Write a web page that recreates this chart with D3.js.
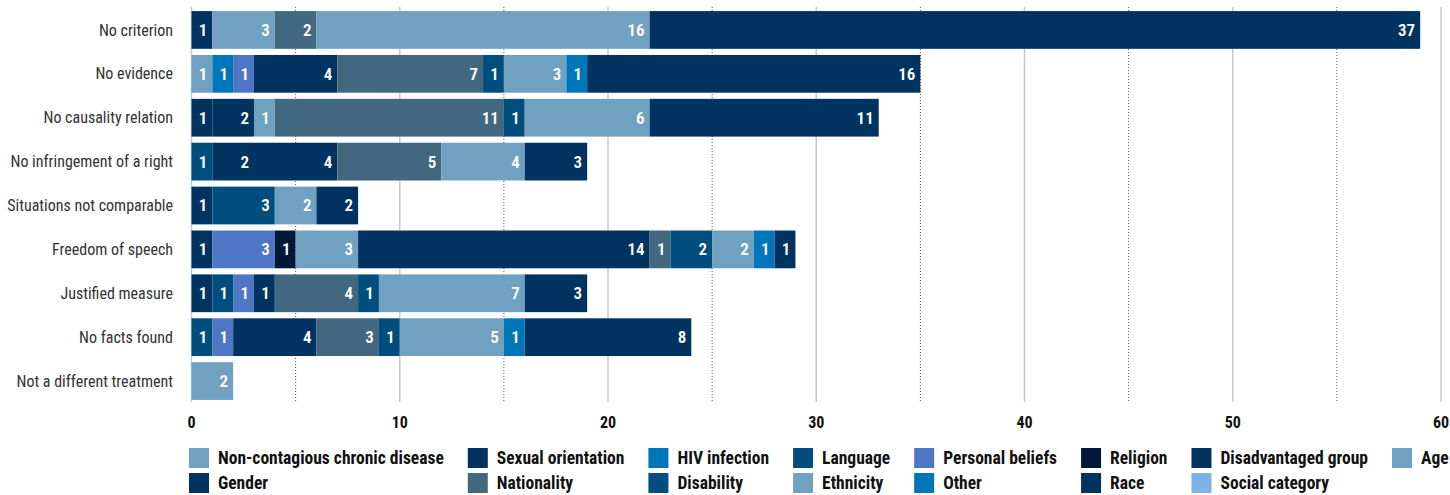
<!DOCTYPE html>
<html>
<head>
<meta charset="utf-8">
<script src="https://cdn.jsdelivr.net/npm/d3@7"></script>
<style>
  body { margin: 0; background: #fff; }
  svg { font-family: 'Roboto Condensed', Roboto, sans-serif; font-stretch: condensed; }
  .cat { fill: #333; font-size: 16px; }
  .val { fill: #fff; font-size: 17px; font-weight: 600; }
  .tick-lbl { fill: #111; font-size: 16px; font-weight: bold; }
  .leg { fill: #111; font-size: 17.5px; font-weight: bold; }
</style>
</head>
<body>
<svg width="1450" height="495"></svg>
<script>
  'use strict';

  const categories = ['No criterion', 'No evidence', 'No causality relation', 'No infringement of a right',
    'Situations not comparable', 'Freedom of speech', 'Justified measure', 'No facts found', 'Not a different treatment'];

  const seriesNames = ['Non-contagious chronic disease', 'Sexual orientation', 'HIV infection', 'Language',
    'Personal beliefs', 'Religion', 'Disadvantaged group', 'Age', 'Gender', 'Nationality', 'Disability',
    'Ethnicity', 'Other', 'Race', 'Social category'];

  const seriesColors = ['#71a1c0', '#00335f', '#0076ba', '#004e7d', '#4e76c4', '#001838', '#00335f', '#71a1c0',
    '#00335f', '#41687e', '#004e7d', '#71a1c0', '#0076ba', '#00335f', '#7fb3e8'];

  // one array per series, same order as categories
  const nonContagious = [0, 1, 0, 0, 0, 0, 0, 0, 0];
  const sexualOrientation = [1, 0, 1, 0, 1, 1, 1, 0, 0];
  const hiv = [0, 1, 0, 0, 0, 0, 0, 0, 0];
  const language = [0, 0, 0, 1, 3, 0, 1, 1, 0];
  const personalBeliefs = [0, 1, 0, 0, 0, 3, 1, 1, 0];
  const religion = [0, 0, 0, 0, 0, 1, 0, 0, 0];
  const disadvantaged = [0, 0, 2, 2, 0, 0, 1, 0, 0];
  const age = [3, 0, 1, 0, 2, 3, 0, 0, 0];
  const gender = [0, 4, 0, 4, 0, 14, 0, 4, 0];
  const nationality = [2, 7, 11, 5, 0, 1, 4, 3, 0];
  const disability = [0, 1, 1, 0, 0, 2, 1, 1, 0];
  const ethnicity = [16, 3, 6, 4, 0, 2, 7, 5, 2];
  const other = [0, 1, 0, 0, 0, 1, 0, 1, 0];
  const race = [37, 16, 11, 3, 2, 1, 3, 8, 0];
  const socialCategory = [0, 0, 0, 0, 0, 0, 0, 0, 0];

  const seriesValues = [nonContagious, sexualOrientation, hiv, language, personalBeliefs, religion, disadvantaged,
    age, gender, nationality, disability, ethnicity, other, race, socialCategory];

  const xTicks = [0, 10, 20, 30, 40, 50, 60];
  const xMinor = [5, 15, 25, 35, 45, 55];

  const svg = d3.select('svg');

  const x = d3.scaleLinear().domain([0, 60]).range([191.5, 1441]);
  const y = d3.scaleBand().domain(categories).range([8, 403]).paddingInner(0.14).paddingOuter(0.07);

  const rows = categories.map((c, i) => {
    const r = { cat: c };
    seriesNames.forEach((s, j) => { r[s] = seriesValues[j][i]; });
    return r;
  });
  const stacked = d3.stack().keys(seriesNames)(rows);

  // grid
  const grid = svg.append('g');
  grid.selectAll('line.major').data(xTicks).enter().append('line')
      .attr('x1', d => x(d)).attr('x2', d => x(d))
      .attr('y1', 7).attr('y2', 402)
      .attr('stroke', '#c8c8c8').attr('stroke-width', 1.5);
  grid.selectAll('line.minor').data(xMinor).enter().append('line')
      .attr('x1', d => x(d)).attr('x2', d => x(d))
      .attr('y1', 7).attr('y2', 402)
      .attr('stroke', '#555').attr('stroke-width', 1)
      .attr('stroke-dasharray', '1,2');

  // bars
  const layer = svg.append('g').selectAll('g').data(stacked).enter().append('g')
      .attr('fill', (d, i) => seriesColors[i]);

  layer.selectAll('rect').data(d => d.filter(p => p[1] > p[0])).enter().append('rect')
      .attr('x', d => x(d[0]))
      .attr('y', d => y(d.data.cat))
      .attr('width', d => x(d[1]) - x(d[0]))
      .attr('height', y.bandwidth());

  layer.selectAll('text').data(d => d.filter(p => p[1] > p[0])).enter().append('text')
      .attr('class', 'val')
      .attr('x', d => x(d[1]) - 5)
      .attr('y', d => y(d.data.cat) + y.bandwidth() / 2)
      .attr('dy', '0.35em')
      .attr('text-anchor', 'end')
      .text(d => d[1] - d[0]);

  // category labels
  svg.append('g').selectAll('text').data(categories).enter().append('text')
      .attr('class', 'cat')
      .attr('x', 173)
      .attr('y', d => y(d) + y.bandwidth() / 2)
      .attr('dy', '0.35em')
      .attr('text-anchor', 'end')
      .text(d => d);

  // x axis labels
  svg.append('g').selectAll('text').data(xTicks).enter().append('text')
      .attr('class', 'tick-lbl')
      .attr('x', d => x(d))
      .attr('y', 422)
      .attr('dy', '0.35em')
      .attr('text-anchor', 'middle')
      .text(d => d);

  // legend, 8 columns, column width from longest label
  const perRow = 8;
  const legend = svg.append('g');
  const items = legend.selectAll('g').data(seriesNames).enter().append('g');
  items.append('rect')
      .attr('width', 20).attr('height', 20)
      .attr('fill', (d, i) => seriesColors[i]);
  items.append('text')
      .attr('class', 'leg')
      .attr('x', 29).attr('y', 10).attr('dy', '0.35em')
      .text(d => d);

  const widths = [];
  items.select('text').each(function (d, i) {
    const c = i % perRow;
    widths[c] = Math.max(widths[c] || 0, this.getComputedTextLength());
  });
  const colX = [189];
  for (let c = 1; c < perRow; c++) colX[c] = colX[c - 1] + 29 + widths[c - 1] + 24;
  items.attr('transform', (d, i) => `translate(${colX[i % perRow]},${448 + Math.floor(i / perRow) * 25})`);
</script>
</body>
</html>
